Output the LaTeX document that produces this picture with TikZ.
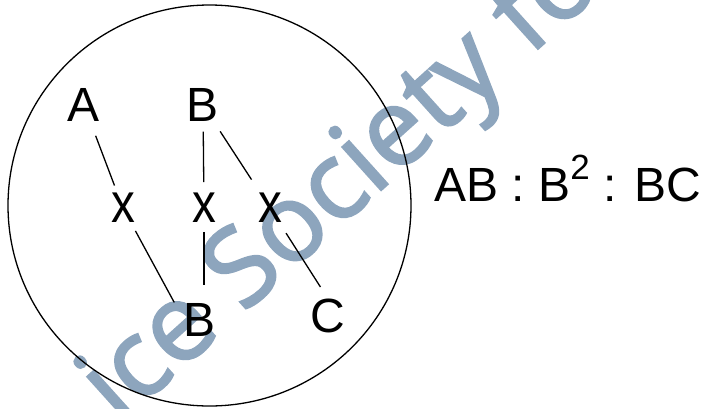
\documentclass[tikz,border=0pt]{standalone}
\usepackage{fontspec}
\setmainfont{Liberation Sans}
\newfontfamily\wmfont[FakeBold=2]{Open Sans}
\definecolor{wmblue}{RGB}{141,165,189}
\begin{document}
\begin{tikzpicture}[x=1pt,y=-1pt,
  lbl/.style={inner sep=0pt, font=\fontsize{48}{48}\selectfont},
  cross/.style={inner sep=0pt, font=\fontsize{56}{56}\selectfont},
  link/.style={line width=1.3pt},
  rim/.style={line width=1.3pt}]
\useasboundingbox (0,0) rectangle (702,408);
% watermark behind everything
\node[rotate=42, anchor=base west, inner sep=0pt, text=wmblue,
      font=\wmfont\fontsize{108}{108}\selectfont] (wm) at (119,426) {ice Society fo};
% enclosing circle
\draw[rim] (209.5,205.5) ellipse [x radius=201.5, y radius=200.5];
% letters
\node[lbl] (A)  at (84,105)  {A};
\node[lbl] (Bt) at (203,105) {B};
\node[cross] (x1) at (123,208) {\scalebox{0.85}[1]{x}};
\node[cross] (x2) at (204,208) {\scalebox{0.85}[1]{x}};
\node[cross] (x3) at (270,208) {\scalebox{0.85}[1]{x}};
\node[lbl] (Bb) at (200,320) {B};
\node[lbl] (C)  at (328,316) {C};
% ratio
\node[lbl, anchor=base west] (ratio) at (434,201)
  {AB : B\raisebox{22pt}{\fontsize{35}{35}\selectfont 2} : BC};
% links
\draw[link, shorten <=15pt, shorten >=8pt] (A) -- (x1);
\draw[link, shorten <=10pt, shorten >=11pt] (Bt) -- (x2);
\draw[link, shorten <=11.5pt, shorten >=16pt] (Bt) -- (x3);
\draw[link, shorten <=9pt, shorten >=20pt] (x1) -- (Bb.west);
\draw[link, shorten <=9pt, shorten >=18pt] (x2.south) -- (x2.south |- Bb.north);
\draw[link, shorten <=12pt, shorten >=14pt] (x3) -- (C.north);
\end{tikzpicture}
\end{document}
